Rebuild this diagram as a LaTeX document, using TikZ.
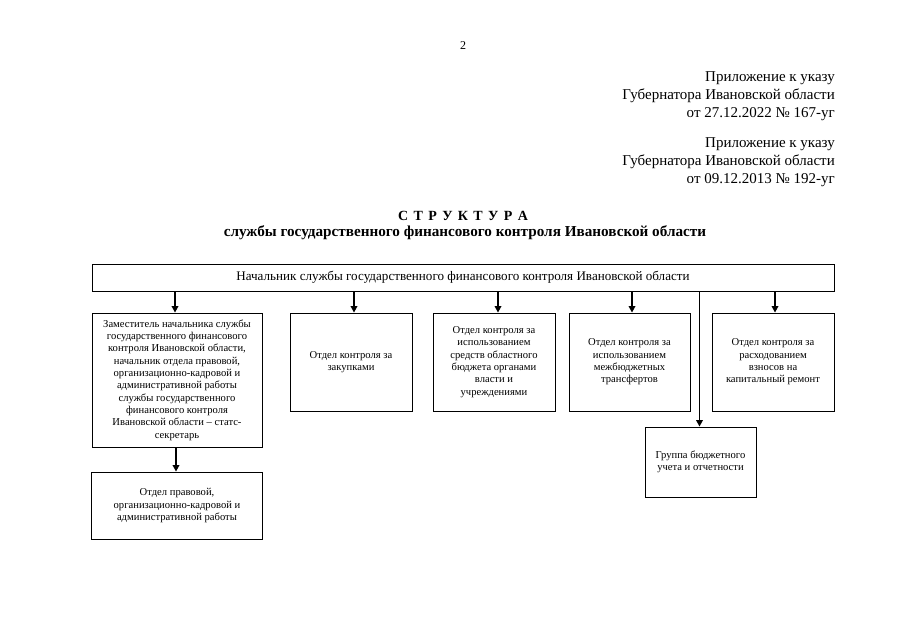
\documentclass[tikz,border=0pt]{standalone}
\usepackage{fontspec}
\setmainfont{Liberation Serif}
\usetikzlibrary{arrows.meta}
\tikzset{
  box/.style={draw, line width=0.8pt, align=center, inner sep=2pt, font=\fontsize{10.6}{12.3}\selectfont},
  conn/.style={line width=1.8pt, -{Triangle[length=6.5pt,width=6.5pt]}},
  hdr/.style={anchor=east, align=right, font=\fontsize{15}{18}\selectfont, inner sep=0pt},
}
\newcommand{\tsp}{\hspace{5.4pt}}
\begin{document}
\begin{tikzpicture}[x=1pt,y=-1pt]
\useasboundingbox (0,0) rectangle (904,639);
\node[font=\fontsize{12}{14}\selectfont, inner sep=0pt] (pg) at (463,46) {2};
\node[hdr] (h1) at (835,96.5) {Приложение к указу\\Губернатора Ивановской области\\от 27.12.2022 № 167-уг};
\node[hdr] (h2) at (835,162) {Приложение к указу\\Губернатора Ивановской области\\от 09.12.2013 № 192-уг};
\node[font=\bfseries\fontsize{14}{16}\selectfont, inner sep=0pt] (t1) at (463,216) {С\tsp Т\tsp Р\tsp У\tsp К\tsp Т\tsp У\tsp Р\tsp А};
\node[font=\bfseries\fontsize{15.2}{16}\selectfont, inner sep=0pt] (t2) at (465,233) {службы государственного финансового контроля Ивановской области};

\node[box, minimum width=742pt, minimum height=27pt, font=\fontsize{13.1}{15}\selectfont] (top) at (463,277.5) {Начальник службы государственного финансового контроля Ивановской области};

\node[box, minimum width=170pt, minimum height=134pt] (b1) at (177,380) {Заместитель начальника службы\\государственного финансового\\контроля Ивановской области,\\начальник отдела правовой,\\организационно-кадровой и\\административной работы\\службы государственного\\финансового контроля\\Ивановской области -- статс-\\секретарь};
\node[box, minimum width=122pt, minimum height=98pt] (b2) at (351,362) {Отдел контроля  за\\закупками};
\node[box, minimum width=122pt, minimum height=98pt] (b3) at (494,362) {Отдел контроля  за\\использованием\\средств областного\\бюджета органами\\власти и\\учреждениями};
\node[box, minimum width=121pt, minimum height=98pt] (b4) at (629.5,362) {Отдел контроля  за\\использованием\\межбюджетных\\трансфертов};
\node[box, minimum width=122pt, minimum height=98pt] (b5) at (773,362) {Отдел контроля за\\расходованием\\взносов на\\капитальный ремонт};
\node[box, minimum width=111pt, minimum height=70pt] (g) at (700.5,462) {Группа бюджетного\\учета и отчетности};
\node[box, minimum width=171pt, minimum height=67pt] (b6) at (177,505.5) {Отдел правовой,\\организационно-кадровой и\\административной работы};

\foreach \b/\dx in {b1/-2,b2/3,b3/4,b4/2.5,b5/2,g/-1}{
  \draw[conn] ([xshift=\dx pt]top.south -| \b.north) -- ([xshift=\dx pt]\b.north);
}
\draw[conn] ([xshift=-1pt]b1.south) -- ([xshift=-1pt]b6.north);
\end{tikzpicture}
\end{document}
